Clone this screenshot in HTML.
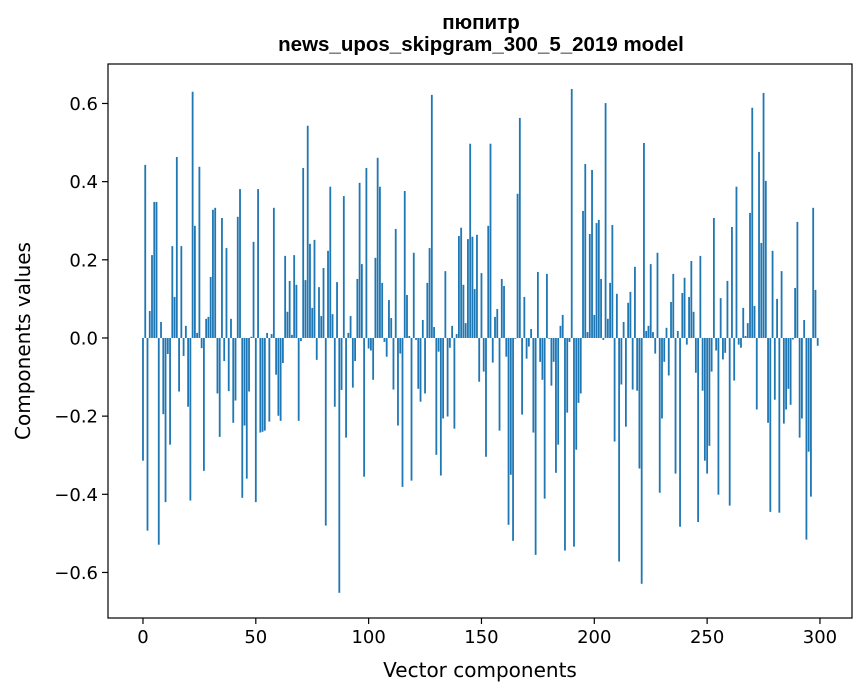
<!DOCTYPE html>
<html><head><meta charset="utf-8"><style>
body{margin:0;background:#fff;}
svg{display:block;font-family:"DejaVu Sans","Liberation Sans",sans-serif;}
</style></head><body>
<svg id="chart" width="867" height="696">
<text x="481" y="29" text-anchor="middle" font-size="20.5" font-weight="bold" font-family="Liberation Sans, sans-serif">пюпитр</text>
<text x="481" y="51" text-anchor="middle" font-size="20.5" font-weight="bold" font-family="Liberation Sans, sans-serif">news_upos_skipgram_300_5_2019 model</text>
<text x="480" y="677" text-anchor="middle" font-size="20">Vector components</text>
<text transform="translate(30,341) rotate(-90)" text-anchor="middle" font-size="20">Components values</text>
<g id="bars"></g>
<g id="axes"></g>
</svg>
<script>
const values = [
-0.314,0.443,-0.493,0.069,0.212,0.348,0.348,-0.529,0.041,-0.195,
-0.42,-0.041,-0.273,0.235,0.105,0.463,-0.137,0.235,-0.046,0.031,
-0.176,-0.416,0.63,0.287,0.013,0.438,-0.026,-0.34,0.049,0.054,
0.156,0.328,0.333,-0.142,-0.253,0.307,-0.059,0.23,-0.136,0.049,
-0.217,-0.16,0.31,0.381,-0.409,-0.224,-0.36,-0.137,0.003,0.246,
-0.42,0.381,-0.242,-0.24,-0.237,0.013,-0.214,0.01,0.333,-0.094,
-0.199,-0.212,-0.064,0.21,0.067,0.146,0.008,0.212,0.136,-0.212,
-0.008,0.435,0.148,0.543,0.241,0.077,0.251,-0.056,0.13,0.056,
0.179,-0.48,0.223,0.387,0.061,-0.176,0.143,-0.652,-0.133,0.363,
-0.255,0.013,0.056,-0.127,-0.059,0.151,0.397,0.189,-0.355,0.435,
-0.027,-0.032,-0.107,0.205,0.461,0.387,0.141,-0.01,-0.048,0.097,
0.051,-0.132,0.279,-0.224,-0.04,-0.381,0.376,0.11,0.005,-0.365,
0.218,-0.005,-0.13,-0.163,0.046,-0.142,0.141,0.23,0.622,0.028,
-0.299,-0.035,-0.352,-0.206,0.171,-0.201,-0.025,0.031,-0.232,0.01,
0.261,0.282,0.136,0.038,0.253,0.497,0.259,0.125,0.264,-0.112,
0.166,-0.086,-0.304,0.287,0.497,-0.063,0.054,0.074,-0.237,0.151,
0.133,-0.048,-0.478,-0.35,-0.519,-0.002,0.369,0.563,-0.196,0.105,
-0.053,-0.022,0.023,-0.242,-0.555,0.169,-0.061,-0.107,-0.411,0.164,
-0.002,-0.122,-0.061,-0.345,-0.273,0.031,0.059,-0.544,-0.191,-0.01,
0.637,-0.534,-0.286,-0.166,-0.142,0.325,0.445,0.015,0.266,0.43,
0.059,0.294,0.302,0.151,-0.005,0.601,0.049,0.141,0.289,-0.265,
0.113,-0.572,-0.119,0.041,-0.227,0.09,0.118,-0.132,0.182,-0.135,
-0.334,-0.629,0.499,0.018,0.031,0.189,0.015,-0.04,0.218,-0.396,
-0.206,-0.061,0.026,-0.096,0.092,0.164,-0.347,0.018,-0.483,0.115,
0.154,-0.017,0.105,0.197,0.067,-0.089,-0.471,0.21,-0.135,-0.314,
-0.347,-0.276,-0.086,0.307,-0.032,-0.401,0.102,-0.055,-0.038,0.146,
-0.429,0.284,-0.109,0.387,-0.017,-0.025,0.077,0.005,0.038,0.32,
0.589,0.082,-0.183,0.476,0.243,0.627,0.402,-0.217,-0.445,0.223,
-0.158,0.1,-0.447,0.171,-0.219,-0.183,-0.13,-0.171,-0.004,0.128,
0.297,-0.255,-0.206,0.046,-0.516,-0.291,-0.406,0.333,0.123,-0.02
];
const xTicks = [0,50,100,150,200,250,300];
const yTicks = [-0.6,-0.4,-0.2,0,0.2,0.4,0.6];

const L=108,R=852,T=64,B=618;
const xMin=-15.5,xMax=314.2,yMin=-0.7165,yMax=0.701;
const sx=v=>L+(v-xMin)/(xMax-xMin)*(R-L);
const sy=v=>T+(yMax-v)/(yMax-yMin)*(B-T);
const NS="http://www.w3.org/2000/svg";
const bars=document.getElementById('bars');
const axes=document.getElementById('axes');
function mk(tag,attrs,parent){const e=document.createElementNS(NS,tag);for(const k in attrs)e.setAttribute(k,attrs[k]);parent.appendChild(e);return e;}
values.forEach((v,i)=>{
  const x0=sx(i-0.4),x1=sx(i+0.4);
  const y0=sy(Math.max(v,0)),y1=sy(Math.min(v,0));
  const r=mk('rect',{x:x0,y:y0,width:x1-x0,height:Math.max(y1-y0,0.3),fill:'#1f77b4'},bars);
  
  
});
const frame=mk('rect',{x:L,y:T,width:R-L,height:B-T,fill:'none',stroke:'#000','stroke-width':1.2},axes);


xTicks.forEach(t=>{
  const x=sx(t);
  mk('line',{x1:x,x2:x,y1:B,y2:B+6,stroke:'#000','stroke-width':1.2},axes);
  const tx=mk('text',{x:x,y:B+25,'text-anchor':'middle','font-size':18},axes);
  tx.textContent=String(t);
  
  
});
yTicks.forEach(t=>{
  const y=sy(t);
  mk('line',{x1:L-6,x2:L,y1:y,y2:y,stroke:'#000','stroke-width':1.2},axes);
  const tx=mk('text',{x:L-10,y:y+6.5,'text-anchor':'end','font-size':18},axes);
  tx.textContent=(t<0?'\u2212':'')+Math.abs(t).toFixed(1);
  
  
});
</script>
</body></html>
